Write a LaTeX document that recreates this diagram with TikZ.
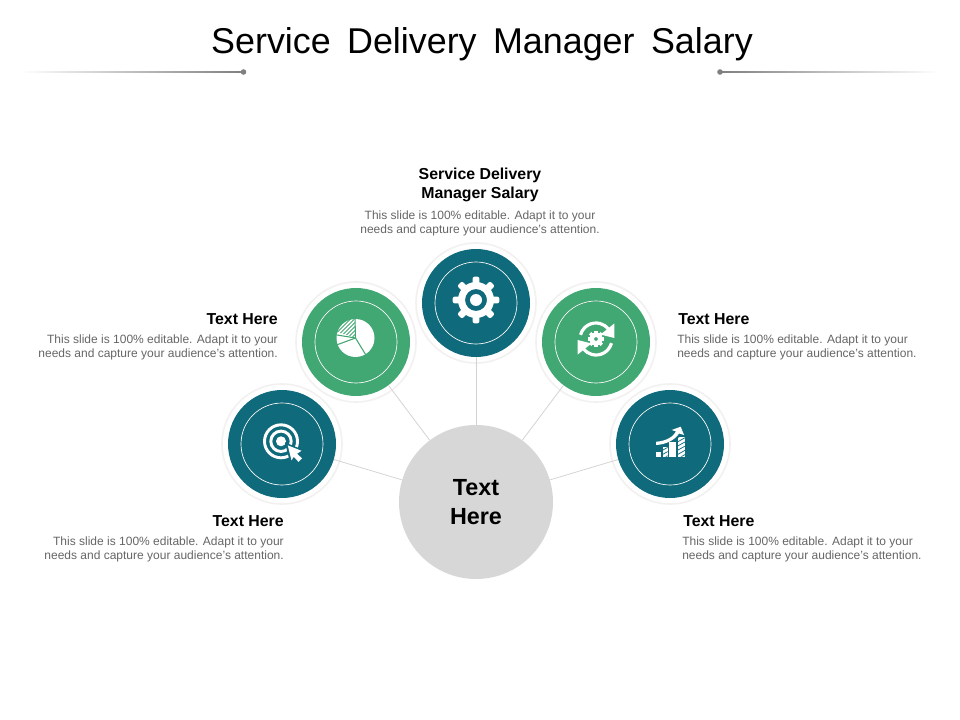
\documentclass[tikz,border=0pt]{standalone}
\usepackage{fontspec}
\setmainfont{Liberation Sans}
\definecolor{teal1}{HTML}{0F6A7B}
\definecolor{green1}{HTML}{42A873}
\definecolor{bodygrey}{HTML}{666666}
\definecolor{ringedge}{HTML}{F3F0F0}
\definecolor{linegrey}{HTML}{D2D2D2}
\tikzset{
  x=0.75pt,y=-0.75pt,
  ring/.style={circle,fill=white,draw=ringedge,line width=1.2pt,minimum size=90pt,inner sep=0pt},
  disc/.style={circle,fill=#1,minimum size=81pt,inner sep=0pt},
  inner/.style={circle,draw=white,line width=0.5pt,minimum size=61.5pt,inner sep=0pt},
  conn/.style={draw=linegrey,line width=0.55pt},
  heading/.style={font=\fontsize{11.9pt}{14.5pt}\selectfont\bfseries,text=black,inner sep=0pt},
  bodytext/.style={font=\fontsize{9pt}{10.8pt}\selectfont,text=bodygrey,inner sep=0pt},
  icon/.style={fill=white,draw=none},
}
\newcommand{\innershadow}[3]{%
  \begin{scope}
    \clip (#1,#2) circle (41);
    \fill[black,opacity=.2] (#1,#2) circle (41);
    \foreach \d/\o in {5/.35,4/.5,3/.6,2/.8,1.2/1}{
      \fill[#3,opacity=\o] (#1+\d*.45,#2+\d*.9) circle (41.5);
    }
  \end{scope}
}
\begin{document}
\begin{tikzpicture}
\useasboundingbox (0,0) rectangle (960,720);
\fill[white] (0,0) rectangle (960,720);
% title
\node[inner sep=0pt,font=\fontsize{26.9pt}{32pt}\selectfont,text=black] (title) at (482,44.5) {Service\hspace{.18em} Delivery\hspace{.18em} Manager\hspace{.18em} Salary};
% header rules
\node[circle,fill=black!50,minimum size=4.2pt,inner sep=0pt] (dl) at (243.5,72) {};
\node[circle,fill=black!50,minimum size=4.2pt,inner sep=0pt] (dr) at (720,72) {};
\shade[left color=white,right color=black!50] (20,71.6) rectangle (243,72.4);
\shade[left color=black!50,right color=white] (720,71.6) rectangle (940,72.4);
% rings
\node[ring] (r1) at (282,444) {};
\node[ring] (r2) at (356,342) {};
\node[ring] (r3) at (476,303) {};
\node[ring] (r4) at (596,342) {};
\node[ring] (r5) at (670,444) {};
% hub and discs
\node[circle,fill=black!15.5,minimum size=115.5pt,inner sep=0pt,align=center,font=\fontsize{17.5pt}{22pt}\selectfont\bfseries] (hub) at (476,502) {Text\\Here};
\node[disc=teal1] (d1) at (282,444) {};
\node[disc=green1] (d2) at (356,342) {};
\node[disc=teal1] (d3) at (476,303) {};
\node[disc=green1] (d4) at (596,342) {};
\node[disc=teal1] (d5) at (670,444) {};
\foreach \n in {1,...,5}{ \draw[conn] (hub) -- (d\n); }
\innershadow{282}{444}{teal1}
\innershadow{356}{342}{green1}
\innershadow{476}{303}{teal1}
\innershadow{596}{342}{green1}
\innershadow{670}{444}{teal1}
\node[inner] at (282,444) {};
\node[inner] at (356,342) {};
\node[inner] at (476,303) {};
\node[inner] at (596,342) {};
\node[inner] at (670,444) {};
% gear
\begin{scope}[shift={(476,300)}]
  \foreach \a in {0,45,...,315}{
    \fill[icon,rotate=\a,rounded corners=1.5pt] (-3.4,-23.3) rectangle (3.4,-14);
  }
  \fill[icon,even odd rule] (0,0) circle (18) (0,0) circle (11);
  \fill[icon] (0,0) circle (6);
\end{scope}
% pie
\begin{scope}[shift={(355.5,338)}]
  \fill[icon] (0,0) circle (19);
  \draw[green1,line width=.8pt] (-0.5,-20) -- (0,0) -- (11,18);
  \draw[green1,line width=.8pt] (0,0) -- (-19,7);
  \draw[green1,line width=.8pt] (0,0) -- (-18.5,-3);
  \begin{scope}
    \clip (-0.5,-0.5) -- (-0.8,-20) arc (268:195:19) -- cycle;
    \foreach \k in {-36,-32,...,12}{ \draw[green1,line width=.7pt] (\k,0) -- (\k+22,-22); }
  \end{scope}
\end{scope}
% cycle icon
\begin{scope}[shift={(596,339)}]
  \foreach \a in {0,45,...,315}{ \fill[icon,rotate=\a] (-1.7,-8.2) rectangle (1.7,-4); }
  \fill[icon,even odd rule] (0,0) circle (6.5) (0,0) circle (2);
  \draw[white,line width=2.4pt] (195:16) arc (195:322:16);
  \draw[white,line width=2.4pt] (15:16) arc (15:142:16);
  \fill[icon] (18.3,-15.5) -- (18.3,-1) -- (4.5,-4.5) -- cycle;
  \fill[icon] (-18.3,15.5) -- (-18.3,1) -- (-4.5,4.5) -- cycle;
\end{scope}
% chart icon
\begin{scope}[shift={(670,444)}]
  \fill[icon] (-14,7.7) rectangle (-9,12.7);
  \fill[icon] (-7.3,3) rectangle (-2.3,12.7);
  \fill[icon] (-1,-2.3) rectangle (6,12.7);
  \fill[icon] (8,-7.3) rectangle (15,12.7);
  \begin{scope}
    \clip (-7.3,3) rectangle (-2.3,12.7) (8,-7.3) rectangle (15,12.7);
    \foreach \k in {-8,-3.8,...,16}{
      \draw[teal1,line width=.55pt] (-8,\k+2) -- (-1,\k-2);
      \draw[teal1,line width=.55pt] (7,\k+2) -- (16,\k-3);
    }
  \end{scope}
  \fill[icon] (-14,-2.2) .. controls (-4,-3) and (3,-7) .. (6,-12.5) -- (1.7,-14) -- (10.7,-17.3) -- (14,-9) -- (9,-10.5) .. controls (5,-4) and (-4,0.5) .. (-14,1) -- cycle;
\end{scope}
% target icon
\begin{scope}[shift={(281,441.3)}]
  \draw[white,line width=2.2pt] (0,0) circle (16.5);
  \draw[white,line width=2.2pt] (0,0) circle (10.2);
  \fill[icon] (0,0) circle (5);
  \fill[teal1] (4,1) -- (23,9) -- (23,20) -- (18,23) -- (9,21) -- cycle;
  \fill[icon] (6.7,4) -- (20.5,9.5) -- (16,12.5) -- (21,17) -- (17.5,20.5) -- (12.7,15.5) -- (10.5,19) -- cycle;
\end{scope}
% labels
\node[heading,align=center] (h3) at (480,185) {Service Delivery\\Manager Salary};
\node[bodytext,align=center] (b3) at (480,223.5) {This slide is 100\% editable. Adapt it to your\\needs and capture your audience's attention.};
\node[heading,anchor=east] (h2) at (278,319) {Text Here};
\node[bodytext,align=right,anchor=east] (b2) at (278,347.5) {This slide is 100\% editable. Adapt it to your\\needs and capture your audience's attention.};
\node[heading,anchor=west] (h4) at (678,319) {Text Here};
\node[bodytext,align=left,anchor=west] (b4) at (677,347.5) {This slide is 100\% editable. Adapt it to your\\needs and capture your audience's attention.};
\node[heading,anchor=east] (h1) at (284,521) {Text Here};
\node[bodytext,align=right,anchor=east] (b1) at (284,549.5) {This slide is 100\% editable. Adapt it to your\\needs and capture your audience's attention.};
\node[heading,anchor=west] (h5) at (683,521) {Text Here};
\node[bodytext,align=left,anchor=west] (b5) at (682,549.5) {This slide is 100\% editable. Adapt it to your\\needs and capture your audience's attention.};
\end{tikzpicture}
\end{document}
